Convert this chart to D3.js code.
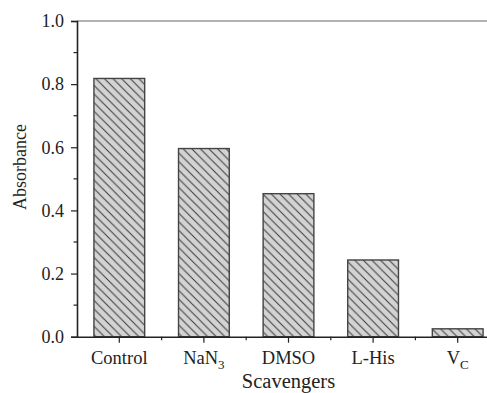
<head>
    <meta charset="utf-8">
    <style> body { margin: 0; background: #fff; } text { font-family: "Liberation Serif", "DejaVu Serif", serif; fill: #222; } </style>
    <script src="https://d3js.org/d3.v7.min.js"></script>
</head>
<body>
<div id="chart"></div>
<script>

    // data
    var categories = ["Control", "NaN3", "DMSO", "L-His", "VC"];
    var labelMain = ["Control", "NaN", "DMSO", "L-His", "V"];
    var labelSub = ["", "3", "", "", "C"];
    var absorbance = [0.818, 0.596, 0.453, 0.243, 0.025];
    var yTicks = [0, 0.2, 0.4, 0.6, 0.8, 1.0];
    var yMinor = [0.1, 0.3, 0.5, 0.7, 0.9];

    var W = 487, H = 393;
    var pLeft = 77, pRight = 500, pTop = 21, pBottom = 336.7;

    var svg = d3.select("#chart").append("svg")
        .attr("width", W)
        .attr("height", H);

    var x = d3.scaleBand().domain(categories).range([pLeft, pRight])
        .paddingInner(0.4).paddingOuter(0.2);
    var y = d3.scaleLinear().domain([0, 1]).range([pBottom, pTop]);

    // hatch pattern
    var s = 8.6;
    var pat = svg.append("defs").append("pattern")
        .attr("id", "hatch")
        .attr("patternUnits", "userSpaceOnUse")
        .attr("width", s)
        .attr("height", s);
    pat.append("rect").attr("width", s).attr("height", s).attr("fill", "#d3d3d3");
    pat.append("path")
        .attr("d", "M-1,-1L" + (s + 1) + "," + (s + 1) + "M-1," + (s - 1) + "L1," + (s + 1) + "M" + (s - 1) + ",-1L" + (s + 1) + ",1")
        .attr("stroke", "#3a3a3a")
        .attr("stroke-width", 1);

    // bars
    svg.append("g").selectAll("rect")
        .data(absorbance)
        .enter()
        .append("rect")
        .attr("x", (d, i) => x(categories[i]))
        .attr("width", x.bandwidth())
        .attr("y", d => y(d))
        .attr("height", d => y(0) - y(d))
        .attr("fill", "url(#hatch)")
        .attr("stroke", "#444")
        .attr("stroke-width", 1.4);

    // frame (top / right)
    svg.append("path")
        .attr("d", "M" + pLeft + "," + pTop + "H" + pRight + "V" + pBottom)
        .attr("fill", "none")
        .attr("stroke", "#666")
        .attr("stroke-width", 1.2);

    // y axis
    var yAxis = svg.append("g")
        .attr("transform", "translate(" + pLeft + ",0)")
        .call(d3.axisLeft(y).tickValues(yTicks).tickSize(6).tickPadding(7).tickFormat(d3.format(".1f")));
    yAxis.select(".domain").attr("stroke", "#222").attr("stroke-width", 1.6);
    yAxis.selectAll(".tick line").attr("stroke", "#222").attr("stroke-width", 1.2);
    yAxis.selectAll("text").attr("font-size", 18).attr("font-family", null).attr("fill", "#222");

    svg.append("g").selectAll("line")
        .data(yMinor)
        .enter()
        .append("line")
        .attr("x1", pLeft - 3.5)
        .attr("x2", pLeft)
        .attr("y1", d => y(d))
        .attr("y2", d => y(d))
        .attr("stroke", "#222")
        .attr("stroke-width", 1.2);

    // x axis
    var xAxis = svg.append("g")
        .attr("transform", "translate(0," + pBottom + ")")
        .call(d3.axisBottom(x).tickSize(6).tickSizeOuter(0).tickFormat(""));
    xAxis.select(".domain").attr("stroke", "#222").attr("stroke-width", 1.6);
    xAxis.selectAll(".tick line").attr("stroke", "#222").attr("stroke-width", 1.2);

    svg.append("g").selectAll("line")
        .data(categories.slice(0, -1))
        .enter()
        .append("line")
        .attr("x1", d => x(d) + x.bandwidth() / 2 + x.step() / 2)
        .attr("x2", d => x(d) + x.bandwidth() / 2 + x.step() / 2)
        .attr("y1", pBottom)
        .attr("y2", pBottom + 3.5)
        .attr("stroke", "#222")
        .attr("stroke-width", 1.2);

    var xl = svg.append("g").selectAll("text")
        .data(categories)
        .enter()
        .append("text")
        .attr("x", d => x(d) + x.bandwidth() / 2)
        .attr("y", pBottom + 27)
        .attr("text-anchor", "middle")
        .attr("font-size", 18.5);
    xl.append("tspan").text((d, i) => labelMain[i]);
    xl.append("tspan")
        .attr("dy", 5)
        .attr("font-size", 13)
        .text((d, i) => labelSub[i]);

    // titles
    svg.append("text")
        .attr("x", (pLeft + pRight) / 2)
        .attr("y", 388)
        .attr("text-anchor", "middle")
        .attr("font-size", 20.5)
        .text("Scavengers");

    svg.append("text")
        .attr("transform", "translate(26,167) rotate(-90)")
        .attr("text-anchor", "middle")
        .attr("font-size", 18)
        .text("Absorbance");

</script>
</body>
